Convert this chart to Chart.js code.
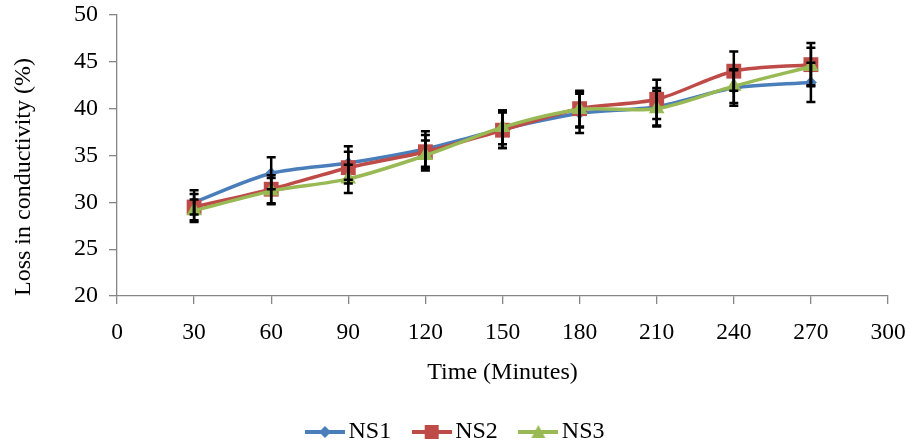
<!DOCTYPE html>
<html>
<head>
<meta charset="utf-8">
<script src="https://cdn.jsdelivr.net/npm/chart.js@4"></script>
<style>
  html, body { margin: 0; padding: 0; background: #fff; }
  #wrap { width: 911px; height: 447px; }
</style>
</head>
<body>
<div id="wrap"><canvas id="c" width="911" height="447"></canvas></div>
<script>
const times = [30, 60, 90, 120, 150, 180, 210, 240, 270];
const ns1 = [30.0, 33.1, 34.2, 35.7, 37.8, 39.5, 40.2, 42.2, 42.8];
const ns2 = [29.5, 31.4, 33.7, 35.4, 37.7, 40.0, 41.0, 44.0, 44.7];
const ns3 = [29.1, 31.2, 32.5, 35.0, 38.0, 39.9, 40.0, 42.4, 44.5];
const ns1Err = [1.3, 1.7, 1.8, 1.9, 2.0, 2.1, 2.0, 1.9, 2.1];
const ns2Err = [1.4, 1.5, 1.7, 1.8, 1.9, 1.9, 2.1, 2.1, 2.3];
const ns3Err = [1.2, 1.4, 1.5, 1.6, 1.8, 1.9, 1.9, 1.8, 2.0];
const seriesNames = ['NS1', 'NS2', 'NS3'];
const xTicks = [0, 30, 60, 90, 120, 150, 180, 210, 240, 270, 300];
const yTicks = [20, 25, 30, 35, 40, 45, 50];

const colors = ['#4A7EBB', '#BE4B48', '#98B954'];
const styles = ['rectRot', 'rect', 'triangle'];
const radii = [6, 10.5, 9];
const values = [ns1, ns2, ns3];
const errs = [ns1Err, ns2Err, ns3Err];
const FONT = "'Liberation Serif', 'Times New Roman', serif";

function legendImage(i) {
  const cv = document.createElement('canvas');
  cv.width = 40; cv.height = 20;
  const ctx = cv.getContext('2d');
  ctx.strokeStyle = colors[i];
  ctx.fillStyle = colors[i];
  ctx.lineWidth = 4;
  ctx.beginPath(); ctx.moveTo(0, 10); ctx.lineTo(40, 10); ctx.stroke();
  ctx.beginPath();
  if (i === 0) {
    ctx.moveTo(20, 4); ctx.lineTo(26, 10); ctx.lineTo(20, 16); ctx.lineTo(14, 10);
  } else if (i === 1) {
    ctx.rect(13, 3, 14, 14);
  } else {
    ctx.moveTo(20, 3); ctx.lineTo(27, 16); ctx.lineTo(13, 16);
  }
  ctx.closePath(); ctx.fill();
  return cv;
}
const legendImgs = [0, 1, 2].map(legendImage);

const errorBars = {
  id: 'errorBars',
  afterDatasetsDraw(chart) {
    const ctx = chart.ctx;
    const yScale = chart.scales.y;
    ctx.save();
    ctx.strokeStyle = '#000';
    ctx.lineWidth = 2.5;
    chart.data.datasets.forEach((ds, i) => {
      const meta = chart.getDatasetMeta(i);
      meta.data.forEach((pt, j) => {
        const v = values[i][j], e = errs[i][j];
        const yt = yScale.getPixelForValue(v + e);
        const yb = yScale.getPixelForValue(v - e);
        const x = pt.x;
        ctx.beginPath();
        ctx.moveTo(x, yt); ctx.lineTo(x, yb);
        ctx.moveTo(x - 4.5, yt); ctx.lineTo(x + 4.5, yt);
        ctx.moveTo(x - 4.5, yb); ctx.lineTo(x + 4.5, yb);
        ctx.stroke();
      });
    });
    ctx.restore();
  }
};

const legendShift = {
  id: 'legendShift',
  afterLayout(chart) {
    if (chart.legend) {
      chart.legend.left += 15;
      chart.legend.right += 15;
    }
  }
};

const datasets = seriesNames.map((name, i) => ({
  label: name,
  data: times.map((t, j) => ({ x: t, y: values[i][j] })),
  borderColor: colors[i],
  backgroundColor: colors[i],
  borderWidth: 3.5,
  pointStyle: styles[i],
  pointRadius: radii[i],
  pointBorderWidth: 0,
  pointBackgroundColor: colors[i],
  tension: 0.3,
  order: 3 - i
}));

new Chart(document.getElementById('c'), {
  type: 'line',
  data: { datasets },
  plugins: [errorBars, legendShift],
  options: {
    responsive: false,
    animation: false,
    devicePixelRatio: 1,
    layout: { padding: { top: 15, right: 23, left: 0, bottom: -7 } },
    plugins: {
      tooltip: { enabled: false },
      legend: {
        position: 'bottom',
        labels: {
          usePointStyle: true,
          pointStyleWidth: 23,
          padding: 29,
          color: '#000',
          font: { family: FONT, size: 24 },
          generateLabels(chart) {
            return chart.data.datasets.map((ds, i) => ({
              text: ds.label,
              pointStyle: legendImgs[i],
              fillStyle: colors[i],
              strokeStyle: colors[i],
              lineWidth: 0,
              hidden: false,
              datasetIndex: i,
              fontColor: '#000'
            }));
          }
        }
      }
    },
    scales: {
      x: {
        type: 'linear',
        min: 0, max: 300,
        afterBuildTicks(scale) { scale.ticks = xTicks.map(v => ({ value: v })); },
        afterFit(scale) { scale.height = 95; scale.paddingLeft = 0; scale.paddingRight = 0; },
        ticks: { color: '#000', font: { family: FONT, size: 23.5 }, padding: 15, maxRotation: 0 },
        grid: { drawOnChartArea: false, tickLength: 8, color: '#868686', lineWidth: 1.3 },
        border: { color: '#868686', width: 1.3 },
        title: {
          display: true, text: 'Time (Minutes)', color: '#000',
          font: { family: FONT, size: 24 }, padding: { top: 10, bottom: 4 }
        }
      },
      y: {
        min: 20, max: 50,
        afterBuildTicks(scale) { scale.ticks = yTicks.map(v => ({ value: v })); },
        afterFit(scale) { scale.width = 117; scale.paddingTop = 0; scale.paddingBottom = 0; },
        ticks: { color: '#000', font: { family: FONT, size: 24 }, padding: 11 },
        grid: { drawOnChartArea: false, tickLength: 8, color: '#868686', lineWidth: 1.3 },
        border: { color: '#868686', width: 1.3 },
        title: {
          display: true, text: 'Loss in conductivity (%)', color: '#000', align: 'start',
          font: { family: FONT, size: 24 }, padding: { top: 9, bottom: 0 }
        }
      }
    }
  }
});
</script>
</body>
</html>
